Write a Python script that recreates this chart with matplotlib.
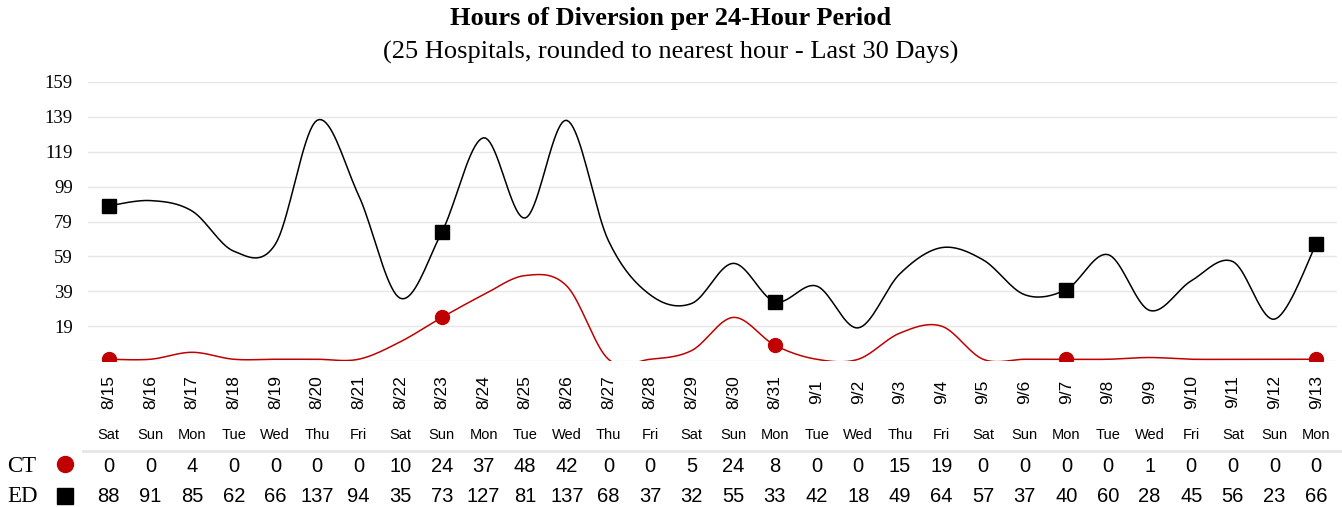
import matplotlib.pyplot as plt
import matplotlib.transforms as mtransforms
import numpy as np

plt.rcParams['font.family'] = ['Liberation Sans', 'DejaVu Sans']

# data
dates = ['8/15', '8/16', '8/17', '8/18', '8/19', '8/20', '8/21', '8/22', '8/23', '8/24',
         '8/25', '8/26', '8/27', '8/28', '8/29', '8/30', '8/31', '9/1', '9/2', '9/3',
         '9/4', '9/5', '9/6', '9/7', '9/8', '9/9', '9/10', '9/11', '9/12', '9/13']
days = ['Sat', 'Sun', 'Mon', 'Tue', 'Wed', 'Thu', 'Fri', 'Sat', 'Sun', 'Mon',
        'Tue', 'Wed', 'Thu', 'Fri', 'Sat', 'Sun', 'Mon', 'Tue', 'Wed', 'Thu',
        'Fri', 'Sat', 'Sun', 'Mon', 'Tue', 'Wed', 'Fri', 'Sat', 'Sun', 'Mon']
ct = [0, 0, 4, 0, 0, 0, 0, 10, 24, 37, 48, 42, 0, 0, 5, 24, 8, 0, 0, 15,
      19, 0, 0, 0, 0, 1, 0, 0, 0, 0]
ed = [88, 91, 85, 62, 66, 137, 94, 35, 73, 127, 81, 137, 68, 37, 32, 55, 33, 42, 18, 49,
      64, 57, 37, 40, 60, 28, 45, 56, 23, 66]
marker_idx = [0, 8, 16, 23, 29]
yticks = [19, 39, 59, 79, 99, 119, 139, 159]

red = '#C00000'


def smooth(y, n=20):
    # excel style smoothed line (catmull-rom bezier through the points)
    y = np.asarray(y, dtype=float)
    x = np.arange(len(y), dtype=float)
    xs, ys = [], []
    t = np.linspace(0, 1, n)
    for i in range(len(y) - 1):
        x0, x3 = x[i], x[i + 1]
        y0, y3 = y[i], y[i + 1]
        xp = x[i - 1] if i > 0 else x0
        yp = y[i - 1] if i > 0 else y0
        xn = x[i + 2] if i + 2 < len(y) else x3
        yn = y[i + 2] if i + 2 < len(y) else y3
        x1 = x0 + (x3 - xp) / 6
        y1 = y0 + (y3 - yp) / 6
        x2 = x3 - (xn - x0) / 6
        y2 = y3 - (yn - y0) / 6
        bx = (1-t)**3*x0 + 3*(1-t)**2*t*x1 + 3*(1-t)*t**2*x2 + t**3*x3
        by = (1-t)**3*y0 + 3*(1-t)**2*t*y1 + 3*(1-t)*t**2*y2 + t**3*y3
        xs.extend(bx)
        ys.extend(by)
    return xs, ys


fig = plt.figure(figsize=(13.42, 5.07), dpi=100)
ax = fig.add_axes([88/1342, 1-361/507, (1337-88)/1342, (361-82)/507])

for v in [-1] + yticks:
    ax.axhline(v, color='#e6e6e6', lw=1, zorder=0)

sx, sy = smooth(ed)
ax.plot(sx, sy, color='black', lw=1.1)
sx, sy = smooth(ct)
ax.plot(sx, sy, color=red, lw=1.1)
ax.plot(marker_idx, [ed[i] for i in marker_idx], 's', color='black', ms=10, ls='none')
ax.plot(marker_idx, [ct[i] for i in marker_idx], 'o', color=red, ms=10, ls='none')

ax.set_xlim(-0.5, 29.5)
ax.set_ylim(-1, 159)
ax.set_yticks(yticks)
ax.set_yticklabels([str(v) for v in yticks], fontfamily='Liberation Serif', fontsize=13.5)
ax.tick_params(axis='y', length=0, pad=11)
ax.set_xticks([])
for s in ax.spines.values():
    s.set_visible(False)

tr = mtransforms.blended_transform_factory(ax.transData, fig.transFigure)
for i in range(len(dates)):
    ax.text(i, 1-392/507, dates[i], rotation=90, ha='center', va='center',
            fontsize=12.5, transform=tr)
    ax.text(i, 1-435/507, days[i], ha='center', va='center', fontsize=10.5, transform=tr)
    ax.text(i, 1-467/507, str(ct[i]), ha='center', va='center', fontsize=14.5, transform=tr)
    ax.text(i, 1-497/507, str(ed[i]), ha='center', va='center', fontsize=14.5, transform=tr)

# separator line above table
fig.add_artist(plt.Line2D([83/1342, 1342/1342], [1-451/507, 1-451/507],
                          color='#e6e6e6', lw=2))

fig.text(7/1342, 1-467/507, 'CT', fontfamily='Liberation Serif', fontsize=16.5, va='center')
fig.text(7/1342, 1-497/507, 'ED', fontfamily='Liberation Serif', fontsize=16.5, va='center')
fig.add_artist(plt.Line2D([65/1342], [1-464/507], marker='o', color=red, ms=11.5,
                          transform=fig.transFigure))
fig.add_artist(plt.Line2D([65/1342], [1-496/507], marker='s', color='black', ms=11,
                          transform=fig.transFigure))

fig.text(0.5, 1-19/507, 'Hours of Diversion per 24-Hour Period', ha='center', va='center',
         fontfamily='Liberation Serif', fontweight='bold', fontsize=19)
fig.text(0.5, 1-52/507, '(25 Hospitals, rounded to nearest hour - Last 30 Days)', ha='center',
         va='center', fontfamily='Liberation Serif', fontsize=19)

fig.savefig('out.png', dpi=100)
